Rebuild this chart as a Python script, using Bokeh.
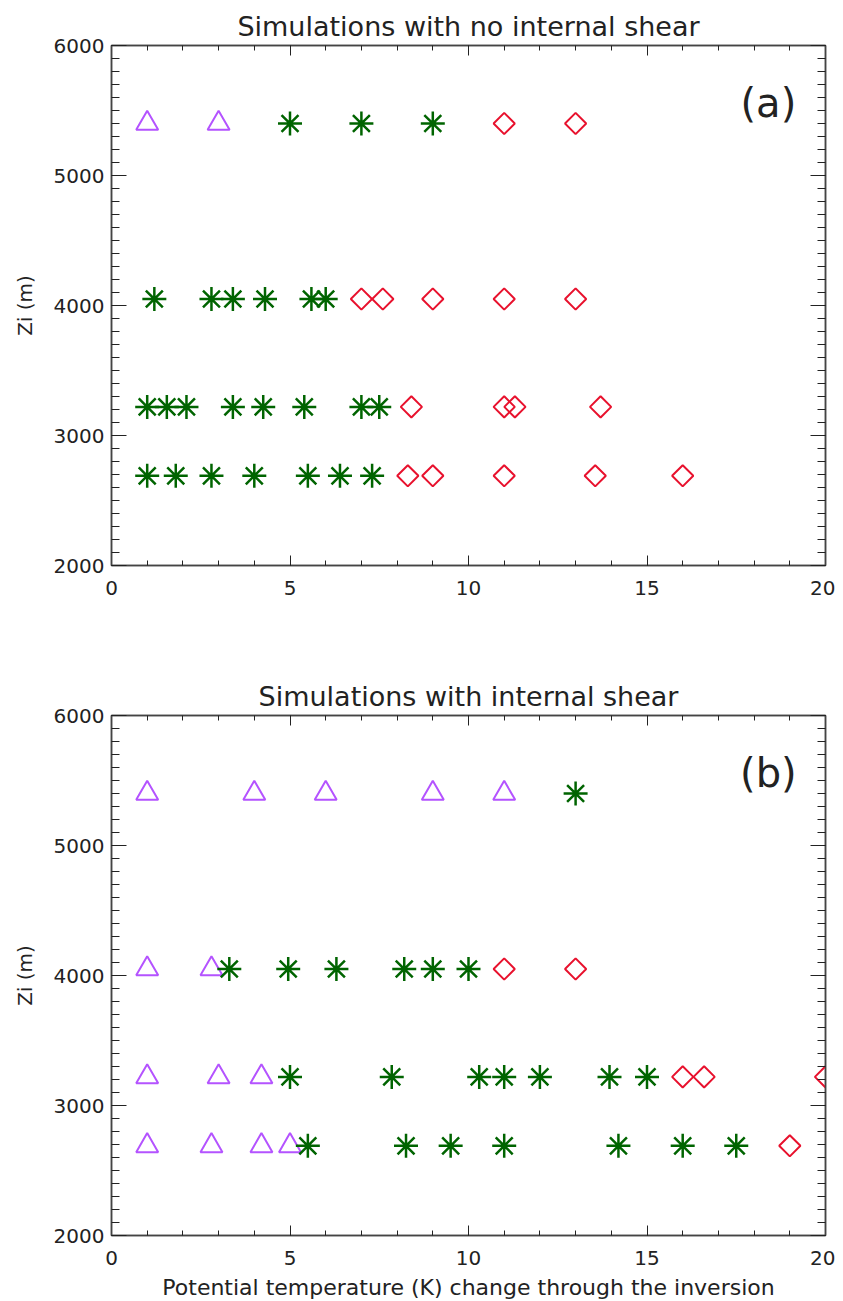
import numpy as np
from bokeh.plotting import figure
from bokeh.models import Range1d, LinearAxis, FixedTicker, Label, CustomJSTickFormatter
from bokeh.layouts import column
from bokeh.embed import file_html
from bokeh.resources import INLINE

# ---------------- data ----------------
titles = ["Simulations with no internal shear", "Simulations with internal shear"]
panel_tags = ["(a)", "(b)"]
x_label = "Potential temperature (K) change through the inversion"
y_label = "Zi (m)"
x_major = [0, 5, 10, 15, 20]
x_minor = list(range(0, 21))
y_major = [2000, 3000, 4000, 5000, 6000]
y_minor = list(range(2000, 6001, 100))

# panel (a): no internal shear
a_tri_x = [1.0, 3.0]
a_tri_y = [5400, 5400]
a_ast_x = [5.0, 7.0, 9.0,
           1.2, 2.8, 3.4, 4.3, 5.6, 6.0,
           1.0, 1.55, 2.1, 3.4, 4.25, 5.4, 7.0, 7.5,
           1.0, 1.8, 2.8, 4.0, 5.5, 6.4, 7.3]
a_ast_y = [5400, 5400, 5400,
           4050, 4050, 4050, 4050, 4050, 4050,
           3220, 3220, 3220, 3220, 3220, 3220, 3220, 3220,
           2690, 2690, 2690, 2690, 2690, 2690, 2690]
a_dia_x = [11.0, 13.0,
           7.0, 7.6, 9.0, 11.0, 13.0,
           8.4, 11.0, 11.3, 13.7,
           8.3, 9.0, 11.0, 13.55, 16.0]
a_dia_y = [5400, 5400,
           4050, 4050, 4050, 4050, 4050,
           3220, 3220, 3220, 3220,
           2690, 2690, 2690, 2690, 2690]

# panel (b): internal shear
b_tri_x = [1.0, 4.0, 6.0, 9.0, 11.0,
           1.0, 2.8,
           1.0, 3.0, 4.2,
           1.0, 2.8, 4.2, 5.0]
b_tri_y = [5400, 5400, 5400, 5400, 5400,
           4050, 4050,
           3220, 3220, 3220,
           2690, 2690, 2690, 2690]
b_ast_x = [13.0,
           3.3, 4.95, 6.3, 8.2, 9.0, 10.0,
           5.0, 7.85, 10.3, 11.0, 12.0, 13.95, 15.0,
           5.5, 8.25, 9.5, 11.0, 14.2, 16.0, 17.5]
b_ast_y = [5400,
           4050, 4050, 4050, 4050, 4050, 4050,
           3220, 3220, 3220, 3220, 3220, 3220, 3220,
           2690, 2690, 2690, 2690, 2690, 2690, 2690]
b_dia_x = [11.0, 13.0,
           16.0, 16.6, 20.0,
           19.0]
b_dia_y = [4050, 4050,
           3220, 3220, 3220,
           2690]

# ---------------- style ----------------
PURPLE = "#B453FF"
GREEN = "#006400"
RED = "#E8112D"
INK = "#222222"
FRAME = "#444444"
FONT = "DejaVu Sans"


def style_axis(ax, major_in, minor_in, labels=True):
    ax.axis_line_color = FRAME
    ax.axis_line_width = 1.5
    ax.major_tick_in = major_in
    ax.major_tick_out = 0
    ax.minor_tick_in = minor_in
    ax.minor_tick_out = 0
    ax.major_tick_line_color = INK
    ax.minor_tick_line_color = INK
    ax.major_tick_line_width = 1
    ax.minor_tick_line_width = 1
    ax.major_label_text_font = FONT
    ax.major_label_text_font_size = "20px"
    ax.major_label_text_color = INK
    ax.axis_label_text_font = FONT
    ax.axis_label_text_font_size = "20px"
    ax.axis_label_text_font_style = "normal"
    ax.axis_label_text_color = INK
    if not labels:
        ax.formatter = CustomJSTickFormatter(code="return ''")
        ax.major_label_text_font_size = "0px"
        ax.major_label_standoff = 0


def make_panel(title, tag, tri_x, tri_y, ast_x, ast_y, dia_x, dia_y,
               top, bottom, with_xlabel):
    p = figure(frame_width=714, frame_height=520,
               x_range=Range1d(0, 20), y_range=Range1d(2000, 6000),
               output_backend="svg", toolbar_location=None,
               min_border_left=111, min_border_right=10,
               min_border_top=top, min_border_bottom=bottom,
               background_fill_color="white", border_fill_color="white",
               outline_line_color=FRAME, outline_line_width=1.5)
    p.grid.visible = False

    xt = FixedTicker(ticks=x_major, minor_ticks=x_minor)
    yt = FixedTicker(ticks=y_major, minor_ticks=y_minor)

    xa = p.xaxis[0]
    xa.ticker = xt
    style_axis(xa, 10, 5)
    xa.major_label_standoff = 15
    if with_xlabel:
        xa.axis_label = x_label
        xa.axis_label_text_font_size = "22px"
        xa.axis_label_standoff = 7

    ya = p.yaxis[0]
    ya.ticker = yt
    style_axis(ya, 15, 8)
    ya.major_label_standoff = 7
    ya.axis_label = y_label
    ya.axis_label_standoff = 14

    top_ax = LinearAxis(ticker=FixedTicker(ticks=x_major, minor_ticks=x_minor))
    style_axis(top_ax, 10, 5, labels=False)
    p.add_layout(top_ax, "above")
    right_ax = LinearAxis(ticker=FixedTicker(ticks=y_major, minor_ticks=y_minor))
    style_axis(right_ax, 15, 8, labels=False)
    p.add_layout(right_ax, "right")

    p.title.text = title
    p.title.align = "center"
    p.title.text_font = FONT
    p.title.text_font_size = "27px"
    p.title.text_font_style = "normal"
    p.title.text_color = INK
    p.title.standoff = 8

    p.scatter(tri_x, tri_y, marker="triangle", size=22, fill_color=None,
              line_color=PURPLE, line_width=2)
    p.scatter(ast_x, ast_y, marker="asterisk", size=24,
              line_color=GREEN, line_width=2.5)
    p.scatter(dia_x, dia_y, marker="square", angle=np.pi / 4, size=15,
              fill_color=None, line_color=RED, line_width=2)

    p.add_layout(Label(x=18.4, y=5555, text=tag, text_font=FONT,
                       text_font_size="40px", text_align="center",
                       text_baseline="middle", text_color=INK))
    return p


p1 = make_panel(titles[0], panel_tags[0], a_tri_x, a_tri_y, a_ast_x, a_ast_y,
                a_dia_x, a_dia_y, top=45, bottom=83, with_xlabel=False)
p2 = make_panel(titles[1], panel_tags[1], b_tri_x, b_tri_y, b_ast_x, b_ast_y,
                b_dia_x, b_dia_y, top=67, bottom=57, with_xlabel=True)

layout = column(p1, p2, spacing=0)
open("out.html", "w").write(file_html(layout, INLINE))
